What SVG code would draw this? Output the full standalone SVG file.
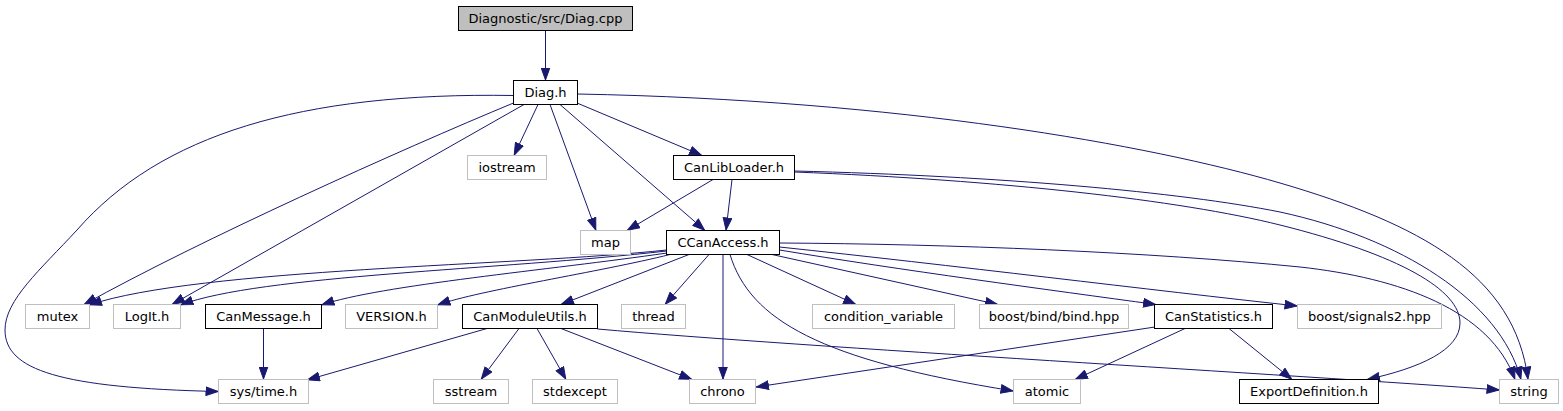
<svg xmlns="http://www.w3.org/2000/svg" width="1563" height="411" viewBox="0 0 1563 411">
<style>
.n rect{fill:#fff;stroke:#000;stroke-width:1}
.x rect{fill:#fff;stroke:#bfbfbf;stroke-width:1}
.r rect{fill:#bfbfbf;stroke:#000;stroke-width:1}
text{font-family:"DejaVu Sans","Liberation Sans",sans-serif;font-size:13px;fill:#000;text-anchor:middle}
#edges path{fill:none;stroke:#191970;stroke-width:1;marker-end:url(#ah)}
</style>
<defs>
<marker id="ah" viewBox="0 0 13 10" refX="13" refY="5" markerWidth="13" markerHeight="10" orient="auto" markerUnits="userSpaceOnUse">
<path d="M0.5,0.7 L12.5,5 L0.5,9.3 z" fill="#191970" stroke="#191970" stroke-width="1"/>
</marker>
</defs>
<rect x="0" y="0" width="1563" height="411" fill="#fff"/>
<g id="edges">
<path d="M545.5,30.5 L545.5,80.5"/>
<path d="M538,104.5 L514,155.5"/>
<path d="M550,104.5 L596,230.5"/>
<path d="M560,104.5 L705,230.5"/>
<path d="M577,103 L702,155.5"/>
<path d="M577.5,94 C900,100 1150,145 1280,183 C1420,224 1515,275 1528,379.5"/>
<path d="M513.5,103 C400,150 200,240 84,304.5"/>
<path d="M524,104.5 L172,304.5"/>
<path d="M513.5,95.5 C300,92 160,135 77,230 C40,270 5,300 5,330 C5,370 60,388 218.5,391.5"/>
<path d="M713,179.5 L627,230.5"/>
<path d="M732,179.5 L726,230.5"/>
<path d="M794.5,171 C1000,176 1180,192 1280,212 C1400,238 1500,300 1521,379.5"/>
<path d="M794.5,172 C1000,180 1180,200 1280,225 C1400,255 1460,290 1460,323 C1460,350 1420,368 1367,379.5"/>
<path d="M666.5,250 C520,266 200,268 89,305"/>
<path d="M666.5,251 C500,270 260,275 180.5,305"/>
<path d="M667,253 C550,270 380,285 321.5,305"/>
<path d="M670,254.5 C600,272 480,290 437.5,305"/>
<path d="M689,254.5 L561,304.5"/>
<path d="M709,254.5 L665,304.5"/>
<path d="M723,254.5 L723,379.5"/>
<path d="M730,254.5 C750,320 820,360 1013.5,391"/>
<path d="M747,254.5 L856,304.5"/>
<path d="M772,254.5 L998,304.5"/>
<path d="M779.5,250 C900,270 1050,290 1156,304.5"/>
<path d="M779.5,247 C950,265 1150,290 1297.5,306"/>
<path d="M779.5,243 C950,244 1150,252 1300,267 C1400,278 1490,310 1515,379.5"/>
<path d="M263.5,328.5 L263.5,379.5"/>
<path d="M487,328.5 L307,380"/>
<path d="M519,328.5 L481,379.5"/>
<path d="M537,328.5 L566,379.5"/>
<path d="M561,328.5 L692,379.5"/>
<path d="M597.5,329 C800,347 1300,375 1499.5,390"/>
<path d="M1155,327 L756,387"/>
<path d="M1185,328.5 L1075,379.5"/>
<path d="M1229,328.5 L1292,379.5"/>
</g>
<g id="n_diag_cpp" class="r"><rect x="458.5" y="6.5" width="174" height="24"/><text x="545.5" y="23">Diagnostic/src/Diag.cpp</text></g>
<g id="n_diag_h" class="n"><rect x="513.5" y="80.5" width="64" height="24"/><text x="545.5" y="97">Diag.h</text></g>
<g id="n_iostream" class="x"><rect x="467.5" y="155.5" width="79" height="24"/><text x="507" y="172">iostream</text></g>
<g id="n_canlibloader" class="n"><rect x="673.5" y="155.5" width="121" height="24"/><text x="734" y="172">CanLibLoader.h</text></g>
<g id="n_map" class="x"><rect x="580.5" y="230.5" width="50" height="24"/><text x="605.5" y="247">map</text></g>
<g id="n_ccanaccess" class="n"><rect x="666.5" y="230.5" width="113" height="24"/><text x="723" y="247">CCanAccess.h</text></g>
<g id="n_mutex" class="x"><rect x="25.5" y="304.5" width="64" height="24"/><text x="57.5" y="321">mutex</text></g>
<g id="n_logit" class="x"><rect x="113.5" y="304.5" width="67" height="24"/><text x="147" y="321">LogIt.h</text></g>
<g id="n_canmessage" class="n"><rect x="205.5" y="304.5" width="116" height="24"/><text x="263.5" y="321">CanMessage.h</text></g>
<g id="n_version" class="x"><rect x="345.5" y="304.5" width="92" height="24"/><text x="391.5" y="321">VERSION.h</text></g>
<g id="n_canmoduleutils" class="n"><rect x="462.5" y="304.5" width="135" height="24"/><text x="530" y="321">CanModuleUtils.h</text></g>
<g id="n_thread" class="x"><rect x="621.5" y="304.5" width="64" height="24"/><text x="653.5" y="321">thread</text></g>
<g id="n_condvar" class="x"><rect x="812.5" y="304.5" width="142" height="24"/><text x="883.5" y="321">condition_variable</text></g>
<g id="n_bind" class="x"><rect x="979.5" y="304.5" width="149" height="24"/><text x="1054" y="321">boost/bind/bind.hpp</text></g>
<g id="n_canstatistics" class="n"><rect x="1154.5" y="304.5" width="118" height="24"/><text x="1213.5" y="321">CanStatistics.h</text></g>
<g id="n_signals2" class="x"><rect x="1297.5" y="304.5" width="144" height="24"/><text x="1369.5" y="321">boost/signals2.hpp</text></g>
<g id="n_systime" class="x"><rect x="218.5" y="379.5" width="90" height="24"/><text x="263.5" y="396">sys/time.h</text></g>
<g id="n_sstream" class="x"><rect x="433.5" y="379.5" width="75" height="24"/><text x="471" y="396">sstream</text></g>
<g id="n_stdexcept" class="x"><rect x="532.5" y="379.5" width="85" height="24"/><text x="575" y="396">stdexcept</text></g>
<g id="n_chrono" class="x"><rect x="689.5" y="379.5" width="66" height="24"/><text x="722.5" y="396">chrono</text></g>
<g id="n_atomic" class="x"><rect x="1013.5" y="379.5" width="67" height="24"/><text x="1047" y="396">atomic</text></g>
<g id="n_exportdef" class="n"><rect x="1239.5" y="379.5" width="139" height="24"/><text x="1309" y="396">ExportDefinition.h</text></g>
<g id="n_string" class="x"><rect x="1499.5" y="379.5" width="59" height="24"/><text x="1529" y="396">string</text></g>
</svg>
